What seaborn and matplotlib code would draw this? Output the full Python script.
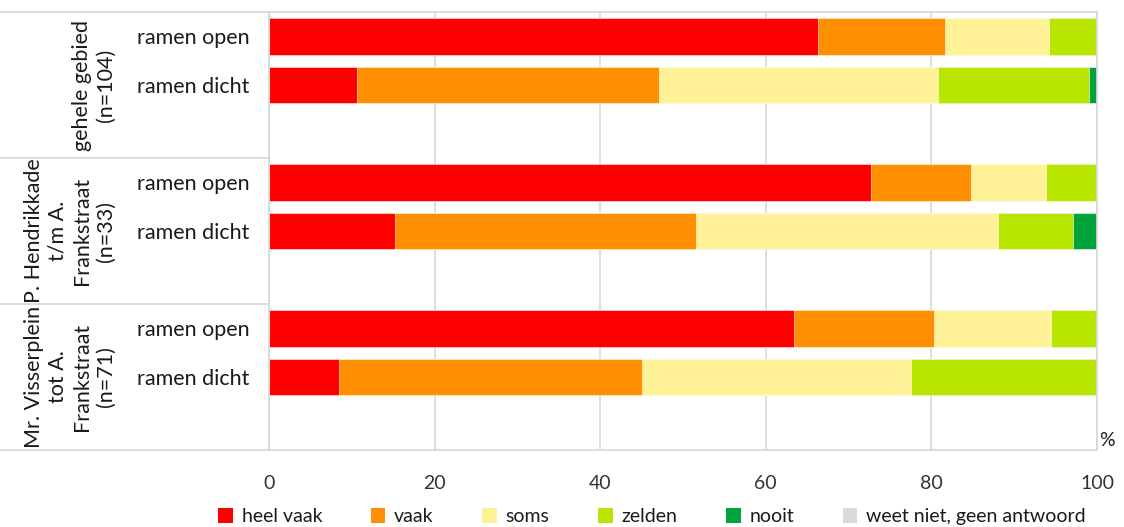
import pandas as pd
import numpy as np
import matplotlib
matplotlib.use("Agg")
import matplotlib.pyplot as plt
import matplotlib.transforms as mtransforms
from matplotlib.patches import Patch
import seaborn as sns

# Gegevens (percentages)
groepen = ["gehele gebied\n(n=104)",
           "P. Hendrikkade\nt/m A.\nFrankstraat\n(n=33)",
           "Mr. Visserplein\ntot A.\nFrankstraat\n(n=71)"]
rijen = ["ramen open", "ramen dicht"]
antwoorden = ["heel vaak", "vaak", "soms", "zelden", "nooit", "weet niet, geen antwoord"]
kleuren = ["#FF0000", "#FF8F00", "#FFF296", "#B8E600", "#00A33C", "#D9D9D9"]

heel_vaak = [66.3, 10.6, 72.7, 15.2, 63.4, 8.5]
vaak = [15.4, 36.5, 12.1, 36.4, 16.9, 36.6]
soms = [12.5, 33.7, 9.1, 36.4, 14.1, 32.4]
zelden = [5.8, 18.2, 6.1, 9.1, 5.6, 22.5]
nooit = [0.0, 1.0, 0.0, 3.0, 0.0, 0.0]
weet_niet = [0.0, 0.0, 0.0, 0.0, 0.0, 0.0]

posities = [0, 1, 3, 4, 6, 7]   # lege rij tussen de groepen

df = pd.DataFrame({"pos": posities, "heel vaak": heel_vaak, "vaak": vaak, "soms": soms,
                   "zelden": zelden, "nooit": nooit, "weet niet, geen antwoord": weet_niet})
cum = df[antwoorden].cumsum(axis=1)
cum["pos"] = df["pos"]

sns.set_theme(style="white")
plt.rcParams["font.family"] = ["Lato", "DejaVu Sans"]

fig = plt.figure(figsize=(11.24, 5.27), dpi=100)
ax = fig.add_axes([269 / 1124, 1 - 450 / 527, (1097 - 269) / 1124, (450 - 12) / 527])

# gestapelde balken: van de grootste cumulatieve waarde naar de kleinste tekenen
for ant, kl in zip(antwoorden[::-1], kleuren[::-1]):
    sns.barplot(data=cum, x=ant, y="pos", orient="h", native_scale=True, color=kl,
                width=0.76, errorbar=None, edgecolor="white", linewidth=0.4,
                saturation=1, ax=ax)

ax.set_xlim(0, 100)
ax.set_ylim(8.5, -0.5)
ax.set_xticks([0, 20, 40, 60, 80, 100])
ax.set_xticklabels(["0", "20", "40", "60", "80", "100"], fontsize=14, color="#333333")
ax.set_yticks(posities)
ax.set_yticklabels(rijen * 3, fontsize=15.5, color="#1a1a1a")
ax.tick_params(axis="y", length=0, pad=14)
ax.tick_params(axis="x", length=0, pad=18)
ax.set_xlabel("")
ax.set_ylabel("")
ax.grid(axis="x", color="#D9D9D9", linewidth=1.2)
ax.set_axisbelow(True)
for s in ax.spines.values():
    s.set_color("#D9D9D9")
    s.set_linewidth(1.3)

# groepslabels en scheidingslijnen links
trans = mtransforms.blended_transform_factory(fig.transFigure, ax.transData)
for i, g in enumerate(groepen):
    ax.text(116 / 1124, 3 * i + 1, g, transform=trans, rotation=90, ha="right",
            va="center", multialignment="center", fontsize=15.5, color="#1a1a1a",
            linespacing=1.25)
for y in [-0.5, 2.5, 5.5, 8.5]:
    ax.plot([0, 269 / 1124], [y, y], transform=trans, color="#D9D9D9",
            linewidth=1.3, clip_on=False)

fig.text(1099 / 1124, 1 - 440 / 527, "%", fontsize=14, color="#1a1a1a", ha="left", va="center")

handles = [Patch(facecolor=k, edgecolor="none", label=a) for a, k in zip(antwoorden, kleuren)]
fig.legend(handles=handles, loc="lower center", bbox_to_anchor=(652 / 1124, -0.03), ncol=6,
           frameon=False, fontsize=14, handlelength=0.75, handleheight=0.75,
           handletextpad=0.45, columnspacing=2.5, labelcolor="#1a1a1a")

fig.savefig("out.png", dpi=100)
